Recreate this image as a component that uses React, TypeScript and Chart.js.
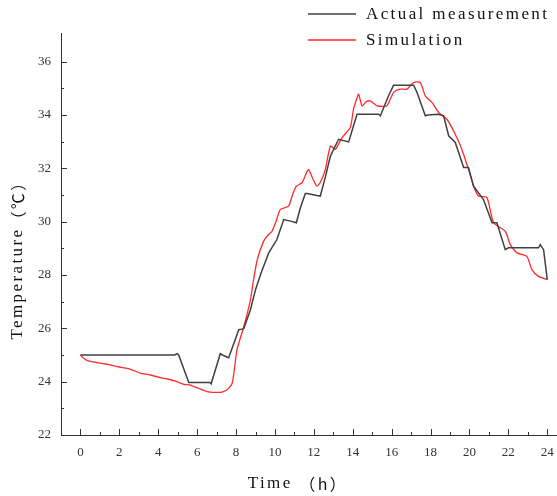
import React, { useEffect, useRef } from "react";
import { Chart, registerables } from "chart.js";

Chart.register(...registerables);

const actualTime = [0, 4.85, 4.97, 5.05, 5.57, 6.65, 6.72, 7.19, 7.3, 7.62, 8.14, 8.3, 8.4, 8.74, 9.0, 9.3, 9.68, 10.1, 10.45, 10.8, 11.1, 11.3, 11.56, 11.65, 12.16, 12.33, 12.6, 12.85, 13.27, 13.79, 14.0, 14.22, 15.33, 15.42, 15.84, 16.1, 17.13, 17.3, 17.73, 17.85, 18.41, 18.67, 18.93, 19.27, 19.7, 19.95, 20.21, 20.72, 21.16, 21.41, 21.84, 22.0, 23.55, 23.64, 23.81, 24.0];
const actualTemp = [25.0, 25.0, 25.05, 25.0, 23.97, 23.97, 23.92, 25.05, 25.0, 24.9, 25.95, 25.97, 26.0, 26.7, 27.45, 28.1, 28.83, 29.33, 30.08, 30.02, 29.96, 30.5, 31.06, 31.06, 30.98, 30.96, 31.7, 32.46, 33.09, 32.99, 33.5, 34.03, 34.03, 33.97, 34.72, 35.12, 35.12, 34.85, 33.97, 34.0, 34.03, 33.97, 33.22, 32.97, 32.03, 32.03, 31.33, 30.83, 29.96, 29.96, 28.95, 29.02, 29.02, 29.14, 28.95, 27.83];

const simTime = [0, 0.1, 0.34, 0.8, 1.54, 2.0, 2.4, 2.8, 3.08, 3.6, 4.11, 4.5, 4.97, 5.31, 5.6, 6.17, 6.5, 7.2, 7.45, 7.62, 7.8, 7.92, 8.05, 8.4, 8.74, 8.9, 9.1, 9.42, 9.65, 9.85, 10.05, 10.28, 10.7, 10.9, 11.1, 11.39, 11.6, 11.73, 11.95, 12.16, 12.35, 12.59, 12.85, 13.1, 13.45, 13.87, 14.04, 14.2, 14.3, 14.48, 14.7, 14.9, 15.05, 15.25, 15.5, 15.76, 16.1, 16.44, 16.79, 17.13, 17.47, 17.73, 18.07, 18.42, 18.84, 19.27, 19.61, 19.95, 20.21, 20.47, 20.9, 21.24, 21.84, 22.1, 22.44, 22.95, 23.21, 23.55, 24.0];
const simTemp = [25.0, 24.92, 24.8, 24.72, 24.63, 24.55, 24.5, 24.4, 24.32, 24.25, 24.15, 24.1, 24.0, 23.9, 23.88, 23.72, 23.63, 23.6, 23.66, 23.75, 23.94, 24.5, 25.2, 26.07, 27.07, 27.83, 28.6, 29.27, 29.5, 29.64, 30.0, 30.46, 30.58, 31.0, 31.33, 31.46, 31.8, 31.96, 31.6, 31.33, 31.5, 31.96, 32.84, 32.71, 33.15, 33.53, 34.22, 34.6, 34.78, 34.34, 34.5, 34.53, 34.45, 34.34, 34.32, 34.34, 34.85, 34.97, 34.97, 35.22, 35.22, 34.72, 34.47, 34.09, 33.84, 33.28, 32.71, 31.96, 31.33, 30.96, 30.9, 29.96, 29.64, 29.14, 28.83, 28.7, 28.2, 27.95, 27.83];

const xTicks = [0, 2, 4, 6, 8, 10, 12, 14, 16, 18, 20, 22, 24];
const xMinorTicks = [1, 3, 5, 7, 9, 11, 13, 15, 17, 19, 21, 23];
const yTicks = [22, 24, 26, 28, 30, 32, 34, 36];
const yMinorTicks = [23, 25, 27, 29, 31, 33, 35];

const seriesNames = ["Actual measurement", "Simulation"];
const seriesColors = ["#404040", "#ff2a2a"];
const xTitleParts = ["Time ", "（h）"];
const yTitleParts = ["Temperature", "（℃）"];

const FONT = "'Liberation Serif', 'Times New Roman', serif";
const CJK = "'Noto Sans CJK SC', 'Noto Sans CJK JP', sans-serif";

function drawParts(ctx: CanvasRenderingContext2D, parts: string[], cx: number, cy: number, size: number) {
  const fonts = [`${size}px ${FONT}`, `${size - 1}px ${CJK}`];
  const widths = parts.map((p, i) => {
    ctx.font = fonts[i];
    return ctx.measureText(p).width;
  });
  const total = widths.reduce((a, b) => a + b, 0);
  let x = cx - total / 2;
  ctx.textAlign = "left";
  parts.forEach((p, i) => {
    ctx.font = fonts[i];
    ctx.fillText(p, x, cy);
    x += widths[i];
  });
}

const decorPlugin = {
  id: "decor",
  afterDraw(chart: any) {
    const ctx = chart.ctx as CanvasRenderingContext2D;
    const { left, right, top, bottom } = chart.chartArea;
    const xs = chart.scales.x;
    const ys = chart.scales.y;
    ctx.save();
    ctx.strokeStyle = "#333";
    ctx.lineWidth = 1;
    ctx.beginPath();
    ctx.moveTo(left + 0.5, top - 2);
    ctx.lineTo(left + 0.5, bottom + 0.5);
    ctx.lineTo(right, bottom + 0.5);
    ctx.stroke();
    ctx.beginPath();
    xTicks.forEach((v) => {
      const px = Math.round(xs.getPixelForValue(v)) + 0.5;
      ctx.moveTo(px, bottom);
      ctx.lineTo(px, bottom - 6);
    });
    xMinorTicks.forEach((v) => {
      const px = Math.round(xs.getPixelForValue(v)) + 0.5;
      ctx.moveTo(px, bottom);
      ctx.lineTo(px, bottom - 3);
    });
    yTicks.forEach((v) => {
      const py = Math.round(ys.getPixelForValue(v)) + 0.5;
      ctx.moveTo(left, py);
      ctx.lineTo(left + 6, py);
    });
    yMinorTicks.forEach((v) => {
      const py = Math.round(ys.getPixelForValue(v)) + 0.5;
      ctx.moveTo(left, py);
      ctx.lineTo(left + 3, py);
    });
    ctx.stroke();

    const c = ctx as any;
    c.letterSpacing = "2.4px";
    ctx.font = `17px ${FONT}`;
    ctx.textBaseline = "middle";
    ctx.textAlign = "left";
    const legY = [14, 40];
    seriesNames.forEach((name, i) => {
      ctx.strokeStyle = seriesColors[i];
      ctx.lineWidth = 1.3;
      ctx.beginPath();
      ctx.moveTo(308, legY[i]);
      ctx.lineTo(356, legY[i]);
      ctx.stroke();
      ctx.fillStyle = "#111";
      ctx.font = `17px ${FONT}`;
      ctx.fillText(name, 366, legY[i] + 1);
    });

    ctx.fillStyle = "#111";
    drawParts(ctx, xTitleParts, 298, 484, 17);
    ctx.save();
    ctx.translate(18, 256);
    ctx.rotate(-Math.PI / 2);
    drawParts(ctx, yTitleParts, 0, 0, 17);
    ctx.restore();
    ctx.restore();
  },
};

export default function App() {
  const ref = useRef<HTMLCanvasElement | null>(null);
  useEffect(() => {
    if (!ref.current) return;
    const chart = new Chart(ref.current, {
      type: "line",
      data: {
        datasets: [
          {
            label: seriesNames[0],
            data: actualTime.map((t, i) => ({ x: t, y: actualTemp[i] })),
            borderColor: seriesColors[0],
            borderWidth: 1.5,
            pointRadius: 0,
            tension: 0,
          },
          {
            label: seriesNames[1],
            data: simTime.map((t, i) => ({ x: t, y: simTemp[i] })),
            borderColor: seriesColors[1],
            borderWidth: 1.3,
            pointRadius: 0,
            tension: 0.2,
          },
        ],
      },
      options: {
        animation: false,
        responsive: false,
        devicePixelRatio: 1,
        layout: { padding: { top: 35, right: 0, left: 0, bottom: 0 } },
        plugins: { legend: { display: false }, tooltip: { enabled: false } },
        scales: {
          x: {
            type: "linear",
            min: -1,
            max: 24.5,
            grid: { display: false, drawTicks: false },
            border: { display: false },
            afterBuildTicks: (s: any) => {
              s.ticks = xTicks.map((v) => ({ value: v }));
            },
            afterFit: (s: any) => {
              s.height = 61;
              s.paddingLeft = 0;
              s.paddingRight = 0;
            },
            ticks: {
              padding: 10,
              autoSkip: false,
              maxRotation: 0,
              color: "#333",
              font: { family: FONT, size: 13 },
            },
          },
          y: {
            type: "linear",
            min: 22,
            max: 37,
            grid: { display: false, drawTicks: false },
            border: { display: false },
            afterBuildTicks: (s: any) => {
              s.ticks = yTicks.map((v) => ({ value: v }));
            },
            afterFit: (s: any) => {
              s.width = 61;
              s.paddingTop = 0;
              s.paddingBottom = 0;
            },
            ticks: {
              padding: 10,
              color: "#333",
              font: { family: FONT, size: 13 },
            },
          },
        },
      } as any,
      plugins: [decorPlugin],
    });
    return () => chart.destroy();
  }, []);
  return (
    <div style={{ position: "fixed", left: 0, top: 0, width: 557, height: 496, background: "#fff" }}>
      <canvas ref={ref} width={557} height={496} />
    </div>
  );
}
